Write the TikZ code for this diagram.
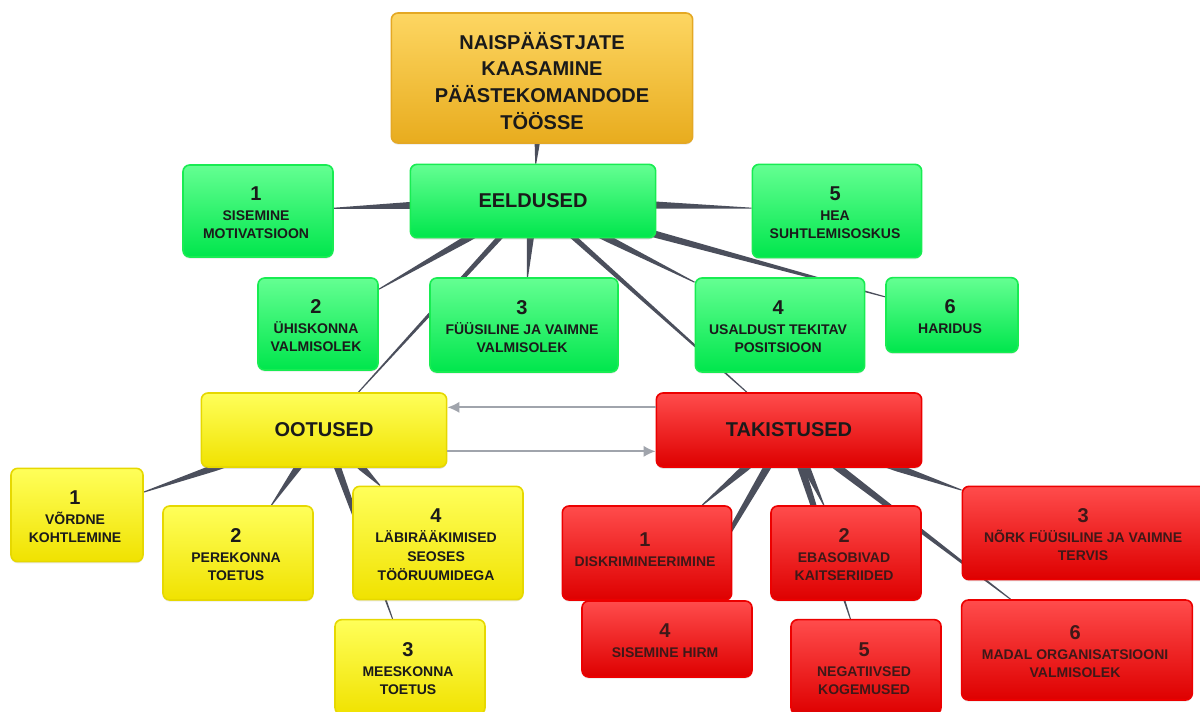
\documentclass[tikz,border=0pt]{standalone}
\usepackage{fontspec}
\setmainfont{Liberation Sans}
\usepackage{tikz}
\usetikzlibrary{arrows.meta,shapes,positioning,shadows,calc,backgrounds}
\usepackage{xcolor}
\definecolor{mmgoldtop}{RGB}{253,214,98}
\definecolor{mmgold}{RGB}{232,172,30}
\definecolor{mmgoldline}{RGB}{228,168,36}
\definecolor{mmgreentop}{RGB}{100,255,146}
\definecolor{mmgreen}{RGB}{0,230,76}
\definecolor{mmgreenline}{RGB}{24,236,82}
\definecolor{mmyellowtop}{RGB}{255,255,90}
\definecolor{mmyellow}{RGB}{240,226,0}
\definecolor{mmyellowline}{RGB}{230,216,0}
\definecolor{mmredtop}{RGB}{255,76,76}
\definecolor{mmred}{RGB}{222,0,0}
\definecolor{mmredline}{RGB}{236,0,0}
\definecolor{mmlink}{RGB}{75,79,92}
\definecolor{mmarrow}{RGB}{160,164,172}
\definecolor{mmtext}{RGB}{26,26,26}
\definecolor{mmredtext}{RGB}{62,24,24}
\setlength{\tabcolsep}{0pt}
\tikzstyle{card} = [rectangle, rounded corners=5pt, line width=1.2pt, align=center, inner sep=1pt, text=mmtext, font=\bfseries\fontsize{10.5}{14}\selectfont, drop shadow={opacity=0.18, shadow xshift=0pt, shadow yshift=-1.2pt}]
\tikzstyle{topic} = [card, font=\bfseries\fontsize{15}{18}\selectfont]
\tikzstyle{titlecard} = [card, top color=mmgoldtop, bottom color=mmgold, draw=mmgoldline, font=\bfseries\fontsize{15}{20}\selectfont]
\tikzstyle{greencard} = [card, top color=mmgreentop, bottom color=mmgreen, draw=mmgreenline]
\tikzstyle{yellowcard} = [card, top color=mmyellowtop, bottom color=mmyellow, draw=mmyellowline]
\tikzstyle{redcard} = [card, top color=mmredtop, bottom color=mmred, draw=mmredline, text=mmredtext]
\tikzstyle{arrow} = [line width=1.3pt, -{Latex[length=9pt,width=8.5pt]}, color=mmarrow]
\newcommand{\num}[1]{\rule{0pt}{17pt}{\fontsize{15}{16}\selectfont #1}}
\newcommand{\branch}[3][2.6pt]{
\path (#2) -- (#3) coordinate[pos=0] (bs) coordinate[pos=1] (be);
\fill[mmlink] ($(#2.center)!#1!90:(#3.center)$) -- ($(bs)!#1!90:(be)$) -- ($(be)!0.4pt!-90:(bs)$) -- ($(be)!0.4pt!90:(bs)$) -- ($(bs)!#1!-90:(be)$) -- ($(#2.center)!#1!-90:(#3.center)$) -- cycle;}

\begin{document}
\begin{tikzpicture}[x=0.75pt, y=-0.75pt]
\useasboundingbox (0,0) rectangle (1200,711);

% Main topic
\node (title) [titlecard, minimum width=226pt, minimum height=97.5pt] at (542,78) {
\rule{0pt}{17pt}NAISPÄÄSTJATE\\
KAASAMINE\\
PÄÄSTEKOMANDODE\\
TÖÖSSE
};

% Eeldused
\node (eeldused) [greencard, topic, minimum width=184pt, minimum height=55pt] at (533,201) {EELDUSED};

\node (g1) [greencard, minimum width=112.5pt, minimum height=69pt] at (258,211) {
\begin{tabular}{c}
\num{1}\\[1pt]
SISEMINE\\
MOTIVATSIOON
\end{tabular}
};

\node (g2) [greencard, minimum width=90pt, minimum height=69pt] at (318,324) {
\begin{tabular}{c}
\num{2}\\[1pt]
ÜHISKONNA\\
VALMISOLEK
\end{tabular}
};

\node (g3) [greencard, minimum width=141pt, minimum height=70.5pt] at (524,325) {
\begin{tabular}{c}
\num{3}\\[1pt]
FÜÜSILINE JA VAIMNE\\
VALMISOLEK
\end{tabular}
};

\node (g4) [greencard, minimum width=127pt, minimum height=70.5pt] at (780,325) {
\begin{tabular}{c}
\num{4}\\[1pt]
USALDUST TEKITAV\\
POSITSIOON
\end{tabular}
};

\node (g5) [greencard, minimum width=127pt, minimum height=70pt] at (837,211) {
\begin{tabular}{c}
\num{5}\\[1pt]
HEA\\
SUHTLEMISOSKUS
\end{tabular}
};

\node (g6) [greencard, minimum width=99pt, minimum height=56pt] at (952,315) {
\begin{tabular}{c}
\num{6}\\[1pt]
HARIDUS
\end{tabular}
};

% Ootused
\node (ootused) [yellowcard, topic, minimum width=184pt, minimum height=55.5pt] at (324,430) {OOTUSED};

\node (y1) [yellowcard, minimum width=99pt, minimum height=70pt] at (77,515) {
\begin{tabular}{c}
\num{1}\\[1pt]
VÕRDNE\\
KOHTLEMINE
\end{tabular}
};

\node (y2) [yellowcard, minimum width=112.5pt, minimum height=70.5pt] at (238,553) {
\begin{tabular}{c}
\num{2}\\[1pt]
PEREKONNA\\
TOETUS
\end{tabular}
};

\node (y4) [yellowcard, minimum width=127.5pt, minimum height=85pt] at (438,543) {
\begin{tabular}{c}
\num{4}\\[1pt]
LÄBIRÄÄKIMISED\\
SEOSES\\
TÖÖRUUMIDEGA
\end{tabular}
};

\node (y3) [yellowcard, minimum width=112.5pt, minimum height=71pt] at (410,667) {
\begin{tabular}{c}
\num{3}\\[1pt]
MEESKONNA\\
TOETUS
\end{tabular}
};

% Takistused
\node (takistused) [redcard, topic, minimum width=199pt, minimum height=55.5pt] at (789,430) {TAKISTUSED};

\node (r1) [redcard, minimum width=127pt, minimum height=70.5pt] at (647,553) {
\begin{tabular}{c}
\num{1}\\[1pt]
DISKRIMINEERIMINE\\[8pt]
\end{tabular}
};

\node (r4) [redcard, minimum width=127.5pt, minimum height=57pt] at (667,639) {
\begin{tabular}{c}
\num{4}\\[1pt]
SISEMINE HIRM
\end{tabular}
};

\node (r2) [redcard, minimum width=112.5pt, minimum height=70.5pt] at (846,553) {
\begin{tabular}{c}
\num{2}\\[1pt]
EBASOBIVAD\\
KAITSERIIDED
\end{tabular}
};

\node (r5) [redcard, minimum width=112.5pt, minimum height=71pt] at (866,667) {
\begin{tabular}{c}
\num{5}\\[1pt]
NEGATIIVSED\\
KOGEMUSED
\end{tabular}
};

\node (r3) [redcard, minimum width=184pt, minimum height=70pt] at (1085,533) {
\begin{tabular}{c}
\num{3}\\[1pt]
NÕRK FÜÜSILINE JA VAIMNE\\
TERVIS
\end{tabular}
};

\node (r6) [redcard, minimum width=173pt, minimum height=75pt] at (1077,650) {
\begin{tabular}{c}
\num{6}\\[1pt]
MADAL ORGANISATSIOONI\\
VALMISOLEK
\end{tabular}
};

% Links
\begin{scope}[on background layer]
\fill[white] (0,0) rectangle (1200,711);
\branch[1.9pt]{title}{eeldused}
\foreach \k in {g1,g2,g3,g4,g5,g6} {\branch{eeldused}{\k}}
\branch[2pt]{eeldused}{ootused}
\branch[2pt]{eeldused}{takistused}
\foreach \k in {y1,y2,y3,y4} {\branch{ootused}{\k}}
\foreach \k in {r1,r2,r3,r4,r5,r6} {\branch[2.8pt]{takistused}{\k}}
\end{scope}

\draw [arrow] ([yshift=17pt]takistused.west) -- ([yshift=17pt]ootused.east);
\draw [arrow] ([yshift=-16pt]ootused.east) -- ([yshift=-16pt]takistused.west);
\end{tikzpicture}
\end{document}
